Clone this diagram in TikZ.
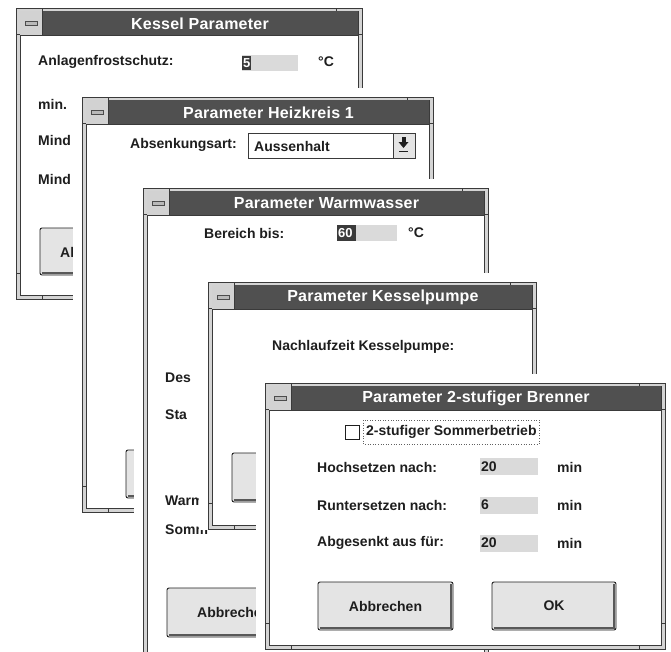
\documentclass[tikz,border=0pt]{standalone}
\usepackage{fontspec}
\newfontfamily\uifont{Liberation Sans}
\newfontfamily\uititlefont{Liberation Sans}[LetterSpace=1.5]
\definecolor{ink}{HTML}{1E1E1E}
\definecolor{frameline}{HTML}{3A3A3A}
\definecolor{framefill}{HTML}{D4D4D4}
\definecolor{titlefill}{HTML}{505050}
\definecolor{sysfill}{HTML}{D2D2D2}
\definecolor{editfill}{HTML}{DADADA}
\definecolor{btnfill}{HTML}{E4E4E4}
\definecolor{selfill}{HTML}{3A3A3A}
\tikzset{
  frm/.style={draw=frameline, line width=0.8pt},
  lab/.style={anchor=west, inner sep=0pt, text=ink, font=\uifont\bfseries\fontsize{14}{16}\selectfont},
  wintitle/.style={inner sep=0pt, text=white, font=\uititlefont\bfseries\fontsize{16}{18}\selectfont},
  seltext/.style={inner sep=0pt, anchor=west, text=white, font=\uifont\bfseries\fontsize{13}{15}\selectfont},
  btn/.style={draw=ink, fill=btnfill, line width=0.9pt, rounded corners=2pt},
  btnshade/.style={draw=gray!70!black, line width=1.6pt},
  editbox/.style={fill=editfill},
}
\newcommand\uiwin[6]{%
  \fill[white] ({#2-9},{#3-9}) rectangle ({#4+1},{#5+1});
  \draw[frm, fill=framefill] (#2,#3) rectangle (#4,#5);
  \draw[frm, fill=white] ({#2+4},{#3+3}) rectangle ({#4-4},{#5-4});
  \fill[titlefill] ({#2+4},{#3+3}) rectangle ({#4-4},{#3+27});
  \fill[sysfill] ({#2+4},{#3+3}) rectangle ({#2+26},{#3+27});
  \draw[frm] ({#2+26},{#3+3}) -- ({#2+26},{#3+27});
  \draw[frm] ({#2+4},{#3+27}) -- ({#4-4},{#3+27});
  \draw[draw=gray!60!black, fill=gray!55, line width=0.6pt] ({#2+9},{#3+13}) rectangle ({#2+21},{#3+17});
  \draw[frm] ({#2+26},#3) -- ({#2+26},{#3+3}) ({#4-26},#3) -- ({#4-26},{#3+3});
  \draw[frm] ({#2+26},#5) -- ({#2+26},{#5-4}) ({#4-26},#5) -- ({#4-26},{#5-4});
  \draw[frm] (#2,{#3+26}) -- ({#2+4},{#3+26}) (#2,{#5-26}) -- ({#2+4},{#5-26});
  \draw[frm] (#4,{#3+26}) -- ({#4-4},{#3+26}) (#4,{#5-26}) -- ({#4-4},{#5-26});
  \node[wintitle] (#1) at ({(#2+#4+22)/2},{#3+15.5}) {#6};
}
\newcommand\uibutton[4]{%
  \draw[btn] (#1,#2) rectangle (#3,#4);
  \draw[btnshade] ({#1+2},{#4-2}) -- ({#3-2},{#4-2}) -- ({#3-2},{#2+2});
}
\begin{document}
\begin{tikzpicture}[x=1pt,y=-1pt]
\useasboundingbox (0,0) rectangle (671,651);
\clip (0,0) rectangle (671,651);
\fill[white] (0,0) rectangle (671,651);

% Window 1
\uiwin{w1}{16}{8}{362}{299}{Kessel Parameter}
\node[lab] (w1a) at (38,62) {Anlagenfrostschutz:};
\fill[editbox] (242,55) rectangle (298,71);
\fill[selfill] (242,56) rectangle (251,70);
\node[seltext] (w1v) at (243,63) {5};
\node[lab] (w1u) at (318,62) {°C};
\node[lab] (w1b) at (38,104) {min.};
\node[lab] (w1c) at (38,140) {Mind};
\node[lab] (w1d) at (38,179) {Mind};
\uibutton{40}{228}{160}{275}
\node[lab] (w1btn) at (60,252) {Al};

% Window 2
\uiwin{w2}{82}{97}{433}{512}{Parameter Heizkreis 1}
\node[lab, anchor=east] (w2a) at (237,145) {Absenkungsart:};
\draw[frm, fill=white] (248,133) rectangle (415,158);
\node[lab] (w2v) at (254,146) {Aussenhalt};
\draw[frm, fill=btnfill] (393,133) rectangle (415,158);
\fill[ink] (401.5,137) rectangle (405.5,142);
\fill[ink] (398.5,142) -- (408.5,142) -- (403.5,148) -- cycle;
\draw[ink, line width=1pt] (399,151) -- (408,151);
\uibutton{126}{450}{240}{498}

% Window 3
\uiwin{w3}{143}{188}{488}{680}{Parameter Warmwasser}
\node[lab] (w3a) at (204,233) {Bereich bis:};
\fill[editbox] (337,225) rectangle (397,241);
\fill[selfill] (337,225) rectangle (356,241);
\node[seltext] (w3v) at (338,233) {60};
\node[lab] (w3u) at (408,233) {°C};
\node[lab] (w3b) at (165,378) {Des};
\node[lab] (w3c) at (165,415) {Sta};
\node[lab] (w3d) at (165,501) {Warm};
\node[lab] (w3e) at (165,530) {Somm};
\uibutton{167}{588}{300}{637}
\node[lab] (w3btn) at (197,612) {Abbrechen};

% Window 4
\uiwin{w4}{208}{282}{536}{529}{Parameter Kesselpumpe}
\node[lab] (w4a) at (272,347) {Nachlaufzeit Kesselpumpe:};
\uibutton{232}{453}{360}{502}

% Window 5
\uiwin{w5}{265}{383}{665}{649}{Parameter 2-stufiger Brenner}
\draw[draw=ink, fill=white, line width=0.9pt] (345,425) rectangle (359,439);
\draw[ink!70, dotted, line width=0.6pt] (363,420) rectangle (539,444);
\node[lab] (w5cb) at (366,432) {2-stufiger Sommerbetrieb};
\node[lab] (w5a) at (317,467) {Hochsetzen nach:};
\fill[editbox] (480,458) rectangle (538,475);
\node[lab] (w5av) at (481,467) {20};
\node[lab] (w5au) at (557,467) {min};
\node[lab] (w5b) at (317,505) {Runtersetzen nach:};
\fill[editbox] (480,497) rectangle (538,514);
\node[lab] (w5bv) at (481,505) {6};
\node[lab] (w5bu) at (557,505) {min};
\node[lab] (w5c) at (317,543) {Abgesenkt aus für:};
\fill[editbox] (480,535) rectangle (538,552);
\node[lab] (w5cv) at (481,543) {20};
\node[lab] (w5cu) at (557,543) {min};
\uibutton{318}{582}{453}{630}
\node[lab, anchor=center] (w5btn1) at (385.5,606) {Abbrechen};
\uibutton{492}{582}{616}{630}
\node[lab, anchor=center] (w5btn2) at (554,606) {OK};
\end{tikzpicture}
\end{document}
